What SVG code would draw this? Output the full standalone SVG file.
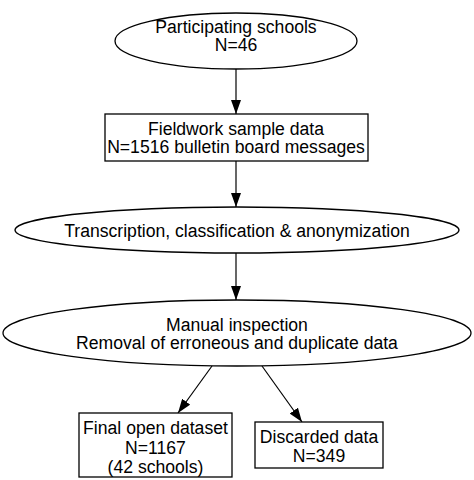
<svg xmlns="http://www.w3.org/2000/svg" width="474" height="480" viewBox="0 0 474 480">
<style>
.shape{fill:#fff;stroke:#000;stroke-width:1.3}
.lbl{font-family:"Liberation Sans",Arial,sans-serif;font-size:17.6px;fill:#000;text-anchor:middle}
.conn{stroke:#000;stroke-width:1.2;fill:none;marker-end:url(#arr)}
</style>
<defs>
<marker id="arr" viewBox="0 0 14 10" refX="14" refY="5" markerWidth="14" markerHeight="10" markerUnits="userSpaceOnUse" orient="auto">
<path d="M0,0 L14,5 L0,10 Z" fill="#000"/>
</marker>
</defs>
<rect width="474" height="480" fill="#fff"/>
<g id="connectors">
<line class="conn" x1="236" y1="69" x2="236" y2="114"/>
<line class="conn" x1="236" y1="161" x2="236" y2="207"/>
<line class="conn" x1="236" y1="253" x2="236" y2="300"/>
<line class="conn" x1="212" y1="366" x2="178" y2="413"/>
<line class="conn" x1="262" y1="366" x2="302" y2="422"/>
</g>
<g id="n1">
<ellipse class="shape" cx="236" cy="41" rx="121" ry="28"/>
<text class="lbl" x="236" y="32.5">Participating schools</text>
<text class="lbl" x="236" y="51">N=46</text>
</g>
<g id="n2">
<rect class="shape" x="105" y="114" width="263" height="47"/>
<text class="lbl" x="236" y="134.5">Fieldwork sample data</text>
<text class="lbl" x="236" y="153">N=1516 bulletin board messages</text>
</g>
<g id="n3">
<ellipse class="shape" cx="237" cy="230" rx="222" ry="23"/>
<text class="lbl" x="237" y="237">Transcription, classification &amp; anonymization</text>
</g>
<g id="n4">
<ellipse class="shape" cx="237" cy="333" rx="234" ry="33"/>
<text class="lbl" x="237" y="330.5">Manual inspection</text>
<text class="lbl" x="237" y="349">Removal of erroneous and duplicate data</text>
</g>
<g id="n5">
<rect class="shape" x="79" y="413" width="153" height="64"/>
<text class="lbl" x="155.5" y="434">Final open dataset</text>
<text class="lbl" x="155.5" y="454">N=1167</text>
<text class="lbl" x="155.5" y="473">(42 schools)</text>
</g>
<g id="n6">
<rect class="shape" x="255" y="422" width="128" height="46"/>
<text class="lbl" x="319" y="443">Discarded data</text>
<text class="lbl" x="319" y="462">N=349</text>
</g>
</svg>
